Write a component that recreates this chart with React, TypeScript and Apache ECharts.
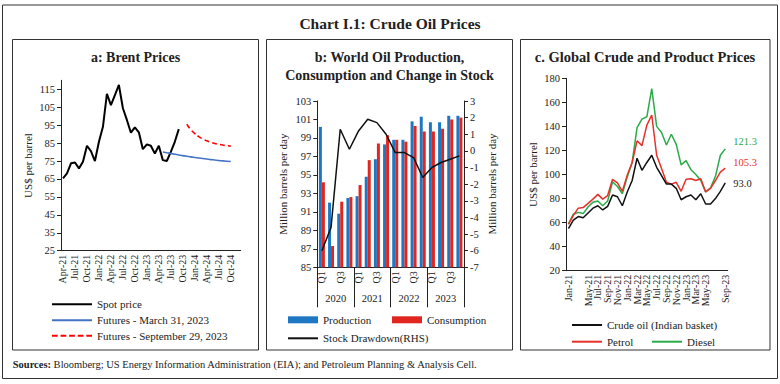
import React, { useEffect, useRef } from "react";
import * as echarts from "echarts";

// ---------- Panel a: Brent prices ----------
const brentMonths = [
  "Apr-21", "May-21", "Jun-21", "Jul-21", "Aug-21", "Sep-21", "Oct-21", "Nov-21", "Dec-21",
  "Jan-22", "Feb-22", "Mar-22", "Apr-22", "May-22", "Jun-22", "Jul-22", "Aug-22", "Sep-22", "Oct-22", "Nov-22", "Dec-22",
  "Jan-23", "Feb-23", "Mar-23", "Apr-23", "May-23", "Jun-23", "Jul-23", "Aug-23", "Sep-23", "Oct-23", "Nov-23", "Dec-23",
  "Jan-24", "Feb-24", "Mar-24", "Apr-24", "May-24", "Jun-24", "Jul-24", "Aug-24", "Sep-24", "Oct-24", "Nov-24", "Dec-24",
];
const brentSpot = [
  65.3, 68.1, 73.7, 74.2, 70.9, 74.6, 83.5, 80.5, 75.0,
  85.7, 94.1, 112.4, 106.2, 111.8, 117.4, 104.4, 97.9, 90.8, 93.8, 91.0, 81.6,
  84.3, 83.5, 79.2, 83.5, 75.5, 75.0, 80.1, 85.7, 92.8,
];
const futuresMarStart = "May-23";
const futuresMar = [80.0, 79.6, 79.2, 78.8, 78.4, 78.0, 77.7, 77.3, 77.0, 76.7, 76.4, 76.1, 75.8, 75.6, 75.3, 75.1, 74.9, 74.7];
const futuresSepStart = "Nov-23";
const futuresSep = [95.5, 92.5, 90.3, 88.6, 87.3, 86.3, 85.5, 84.8, 84.3, 83.9, 83.6, 83.3];
const brentTicks = [25, 35, 45, 55, 65, 75, 85, 95, 105, 115];

// ---------- Panel b: World oil production / consumption ----------
const quarters = [
  "Q1 2020", "Q2 2020", "Q3 2020", "Q4 2020",
  "Q1 2021", "Q2 2021", "Q3 2021", "Q4 2021",
  "Q1 2022", "Q2 2022", "Q3 2022", "Q4 2022",
  "Q1 2023", "Q2 2023", "Q3 2023", "Q4 2023",
];
const years = ["2020", "2021", "2022", "2023"];
const production = [100.2, 92.0, 90.8, 92.5, 92.7, 94.8, 96.7, 98.3, 98.8, 98.8, 100.8, 101.3, 100.7, 100.7, 101.4, 101.4];
const consumption = [94.2, 87.3, 92.1, 92.6, 93.9, 96.6, 98.4, 99.3, 98.8, 98.6, 100.3, 99.7, 99.7, 100.0, 101.0, 101.2];
const stockDrawdown = [-6.0, -4.6, 1.3, 0.1, 1.2, 1.9, 1.7, 1.0, -0.1, -0.1, -0.4, -1.6, -1.0, -0.7, -0.5, -0.3];
const leftTicksB = [85, 87, 89, 91, 93, 95, 97, 99, 101, 103];
const rightTicksB = [-7, -6, -5, -4, -3, -2, -1, 0, 1, 2, 3];

// ---------- Panel c: Global crude and product prices ----------
const productMonths = [
  "Jan-21", "Feb-21", "Mar-21", "Apr-21", "May-21", "Jun-21", "Jul-21", "Aug-21", "Sep-21", "Oct-21", "Nov-21", "Dec-21",
  "Jan-22", "Feb-22", "Mar-22", "Apr-22", "May-22", "Jun-22", "Jul-22", "Aug-22", "Sep-22", "Oct-22", "Nov-22", "Dec-22",
  "Jan-23", "Feb-23", "Mar-23", "Apr-23", "May-23", "Jun-23", "Jul-23", "Aug-23", "Sep-23",
];
const crudeOil = [55, 62, 65, 64, 68, 72, 74, 70.5, 73.5, 83, 81.5, 74, 85.5, 95, 113.5, 103.5, 110, 116, 106, 99, 92, 92, 88.5, 79, 81.5, 83, 79, 84, 75.5, 75.5, 80, 86, 93.0];
const petrol = [58.5, 66, 72, 72.5, 76, 79.5, 83.5, 79.5, 82.5, 96, 93, 86, 99.5, 110, 128, 124, 141, 149.5, 116, 105, 93.5, 92, 93.5, 86, 96, 96.5, 95, 96.5, 85.5, 88.5, 95, 102, 105.3];
const diesel = [59, 67, 68.5, 67.5, 73, 77, 78, 74, 78, 94, 90, 84, 98, 110, 139, 146, 148, 171.5, 140, 135, 124.5, 133.5, 125, 108, 111.5, 104, 100, 95, 85.5, 89, 98.5, 116, 121.3];

const FONT = "Liberation Serif";
const INK = "#222";
const DASH_ICON = "path://M0,0h6v2h-6zM9,0h6v2h-6zM18,0h6v2h-6zM27,0h6v2h-6zM36,0h6v2h-6z";

function padSeries(categories: string[], start: string, values: number[]) {
  const s = categories.indexOf(start);
  const out: (number | null)[] = categories.map(() => null);
  values.forEach((v, i) => (out[s + i] = v));
  return out;
}

const axisLine = () => ({ show: true, onZero: false, lineStyle: { color: INK, width: 1 } });
const tickLine = () => ({ color: INK, width: 1 });
const lbl = (extra: any = {}) => ({ color: INK, fontFamily: FONT, fontSize: 10.5, ...extra });
const nameStyle = () => ({ color: INK, fontFamily: FONT, fontSize: 11 });
const legendItem = (left: number, top: number, w: number, h: number, icon: string, name: string) => ({
  padding: 0, selectedMode: false, symbolKeepAspect: false,
  textStyle: { color: INK, fontFamily: FONT, fontSize: 11, lineHeight: 12 },
  left, top, itemWidth: w, itemHeight: h, icon, data: [name],
});
const lineLegend = (left: number, centerY: number, width: number, name: string, icon = "rect") =>
  legendItem(left, centerY - 1, width, 2, icon, name);
const endLabel = (color: string, dy: number) => ({
  show: true, formatter: (p: any) => Number(p.value).toFixed(1), color, fontFamily: FONT, fontSize: 10.5, offset: [0, dy],
});
const titleText = (x: number, y: number, text: string, size = 14) => ({
  type: "text", x, y, silent: true,
  style: { text, fontFamily: FONT, fontSize: size, fontWeight: "bold", fill: INK, align: "center", verticalAlign: "middle" },
});
const frame = (x: number, y: number, width: number, height: number) => ({
  type: "rect", silent: true, shape: { x, y, width, height }, style: { fill: "none", stroke: "#333", lineWidth: 1 },
});

export default function App() {
  const ref = useRef<HTMLDivElement>(null);
  useEffect(() => {
    if (!ref.current) return;
    const chart = echarts.init(ref.current, undefined, { renderer: "svg" });

    const option: any = {
      animation: false,
      backgroundColor: "#fff",
      textStyle: { fontFamily: FONT },
      grid: [
        { left: 61, right: 539.3, top: 80.3, bottom: 133.3 },
        { left: 317.3, right: 316, top: 101, bottom: 116.7 },
        { left: 566, right: 52.3, top: 78.3, bottom: 113.3 },
      ],
      xAxis: [
        {
          type: "category", gridIndex: 0, data: brentMonths, boundaryGap: true,
          axisLine: axisLine(), axisTick: { lineStyle: tickLine(), interval: 2, alignWithLabel: true, length: 4 },
          axisLabel: lbl({ fontSize: 10, rotate: 90, interval: 2, margin: 4, showMinLabel: true }),
        },
        {
          type: "category", gridIndex: 1, data: quarters, boundaryGap: true,
          axisLine: axisLine(), axisTick: { lineStyle: tickLine(), interval: 0, length: 3 },
          axisLabel: lbl({ fontSize: 10, rotate: 90, interval: 1, margin: 4, formatter: (v: string) => v.split(" ")[0] }),
        },
        {
          type: "category", gridIndex: 1, data: years, boundaryGap: true, position: "bottom",
          axisLine: { show: false, onZero: false }, axisTick: { show: true, lineStyle: tickLine(), length: 40, interval: 0 },
          axisLabel: lbl({ margin: 26 }),
        },
        {
          type: "category", gridIndex: 2, data: productMonths, boundaryGap: true,
          axisLine: axisLine(), axisTick: { lineStyle: tickLine(), interval: 1, alignWithLabel: true, length: 3 },
          axisLabel: lbl({ fontSize: 10, rotate: 90, interval: 1, margin: 4, showMinLabel: true, showMaxLabel: true }),
        },
      ],
      yAxis: [
        {
          type: "value", gridIndex: 0, min: 25, max: 120,
          axisLine: axisLine(), axisTick: { show: true, lineStyle: tickLine(), length: 4, customValues: brentTicks },
          axisLabel: lbl({ margin: 6, customValues: brentTicks }),
          splitLine: { show: false },
          name: "US$ per barrel", nameLocation: "middle", nameRotate: 90, nameGap: 28, nameTextStyle: nameStyle(),
        },
        {
          type: "value", gridIndex: 1, min: 85, max: 103, position: "left",
          axisLine: axisLine(), axisTick: { show: true, lineStyle: tickLine(), length: 4, customValues: leftTicksB },
          axisLabel: lbl({ margin: 6, customValues: leftTicksB }),
          splitLine: { show: false },
          name: "Million barrels per day", nameLocation: "middle", nameRotate: 90, nameGap: 29, nameTextStyle: nameStyle(),
        },
        {
          type: "value", gridIndex: 1, min: -7, max: 3, position: "right",
          axisLine: axisLine(), axisTick: { show: true, lineStyle: tickLine(), length: 4, customValues: rightTicksB },
          axisLabel: lbl({ margin: 6, customValues: rightTicksB }),
          splitLine: { show: false },
        },
        {
          type: "value", gridIndex: 2, min: 20, max: 180, interval: 20,
          axisLine: axisLine(), axisTick: { show: true, lineStyle: tickLine(), length: 4 },
          axisLabel: lbl({ margin: 6 }),
          splitLine: { show: false },
          name: "US$ per barrel", nameLocation: "middle", nameRotate: 90, nameGap: 28, nameTextStyle: nameStyle(),
        },
      ],
      legend: [
        lineLegend(52, 299.3, 40, "Spot price"),
        lineLegend(52, 315.3, 40, "Futures - March 31, 2023"),
        lineLegend(52, 330.7, 40, "Futures - September 29, 2023", DASH_ICON),
        legendItem(288, 313.8, 30, 7, "rect", "Production"),
        legendItem(392, 313.8, 30, 7, "rect", "Consumption"),
        lineLegend(288, 333.3, 30, "Stock Drawdown(RHS)"),
        lineLegend(572, 320, 30, "Crude oil (Indian basket)"),
        lineLegend(572, 336.7, 30, "Petrol"),
        lineLegend(652, 336.7, 30, "Diesel"),
      ],
      series: [
        {
          name: "Spot price", type: "line", xAxisIndex: 0, yAxisIndex: 0, symbol: "none",
          data: padSeries(brentMonths, brentMonths[0], brentSpot),
          lineStyle: { color: "#000", width: 2 }, itemStyle: { color: "#000" },
        },
        {
          name: "Futures - March 31, 2023", type: "line", xAxisIndex: 0, yAxisIndex: 0, symbol: "none", smooth: true,
          data: padSeries(brentMonths, futuresMarStart, futuresMar),
          lineStyle: { color: "#4472C4", width: 1.6 }, itemStyle: { color: "#4472C4" },
        },
        {
          name: "Futures - September 29, 2023", type: "line", xAxisIndex: 0, yAxisIndex: 0, symbol: "none", smooth: true,
          data: padSeries(brentMonths, futuresSepStart, futuresSep),
          lineStyle: { color: "#FF0000", width: 1.6, type: [5, 3] }, itemStyle: { color: "#FF0000" },
        },
        {
          name: "Production", type: "bar", xAxisIndex: 1, yAxisIndex: 1, data: production,
          barWidth: 3, barGap: "0%", itemStyle: { color: "#1F77C4" },
        },
        {
          name: "Consumption", type: "bar", xAxisIndex: 1, yAxisIndex: 1, data: consumption,
          barWidth: 3, barGap: "0%", itemStyle: { color: "#E0261E" },
        },
        {
          name: "Stock Drawdown(RHS)", type: "line", xAxisIndex: 1, yAxisIndex: 2, symbol: "none", data: stockDrawdown,
          lineStyle: { color: "#111", width: 1.5 }, itemStyle: { color: "#111" }, z: 5,
        },
        {
          name: "Crude oil (Indian basket)", type: "line", xAxisIndex: 3, yAxisIndex: 3, symbol: "none", data: crudeOil,
          lineStyle: { color: "#111", width: 1.5 }, itemStyle: { color: "#111" }, z: 4,
          endLabel: endLabel("#222", 1),
        },
        {
          name: "Petrol", type: "line", xAxisIndex: 3, yAxisIndex: 3, symbol: "none", data: petrol,
          lineStyle: { color: "#E8302A", width: 1.5 }, itemStyle: { color: "#E8302A" }, z: 3,
          endLabel: endLabel("#E8302A", -6),
        },
        {
          name: "Diesel", type: "line", xAxisIndex: 3, yAxisIndex: 3, symbol: "none", data: diesel,
          lineStyle: { color: "#2BAA4A", width: 1.5 }, itemStyle: { color: "#2BAA4A" }, z: 2,
          endLabel: endLabel("#2BAA4A", -7),
        },
      ],
      graphic: [
        frame(2.5, 5, 775, 373.5),
        frame(12.5, 39.5, 246, 310.5),
        frame(266.5, 39.5, 246, 310.5),
        frame(520.5, 39.5, 249.5, 310.5),
        titleText(390, 23, "Chart I.1: Crude Oil Prices", 15.5),
        titleText(135.5, 57, "a: Brent Prices"),
        titleText(389.5, 57, "b: World Oil Production,"),
        titleText(389.5, 75, "Consumption and Change in Stock"),
        titleText(645, 57, "c. Global Crude and Product Prices", 14.5),
        {
          type: "text", x: 491.5, y: 184, rotation: Math.PI / 2, silent: true,
          style: { text: "Million barrels per day", fontFamily: FONT, fontSize: 11, fill: INK, align: "center", verticalAlign: "middle" },
        },
        {
          type: "text", x: 12.7, y: 364, silent: true,
          style: {
            text: "{b|Sources:} Bloomberg; US Energy Information Administration (EIA); and Petroleum Planning & Analysis Cell.",
            fontFamily: FONT, fontSize: 10.5, fill: INK, align: "left", verticalAlign: "middle",
            rich: { b: { fontFamily: FONT, fontSize: 10.5, fontWeight: "bold", fill: INK } },
          },
        },
      ],
    };
    chart.setOption(option);
    return () => chart.dispose();
  }, []);
  return <div ref={ref} style={{ position: "absolute", left: 0, top: 0, width: 780, height: 384, background: "#fff" }} />;
}
